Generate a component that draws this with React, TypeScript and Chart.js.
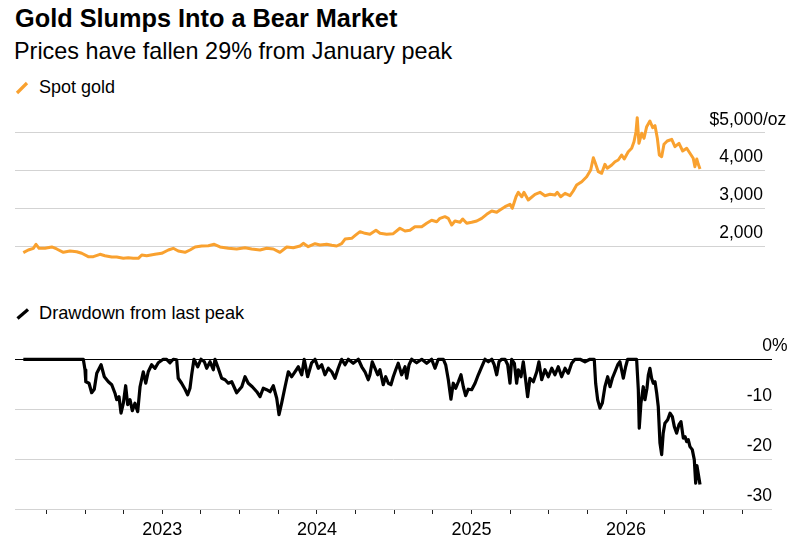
import React, { useEffect, useRef } from 'react';
import { Chart, registerables } from 'chart.js';

Chart.register(...registerables);

// Spot gold, USD per ounce (x = fractional year)
const goldDates = [
  2022.101, 2022.133, 2022.166, 2022.183, 2022.203, 2022.241, 2022.285, 2022.317, 2022.36, 2022.403,
  2022.446, 2022.479, 2022.521, 2022.554, 2022.597, 2022.629, 2022.673, 2022.705, 2022.748, 2022.78,
  2022.812, 2022.845, 2022.867, 2022.899, 2022.953, 2022.996, 2023.039, 2023.071, 2023.103, 2023.147,
  2023.179, 2023.212, 2023.255, 2023.298, 2023.336, 2023.373, 2023.427, 2023.481, 2023.535, 2023.578,
  2023.632, 2023.675, 2023.718, 2023.761, 2023.805, 2023.847, 2023.891, 2023.912, 2023.944, 2023.988,
  2024.02, 2024.063, 2024.096, 2024.128, 2024.16, 2024.182, 2024.225, 2024.246, 2024.279, 2024.311,
  2024.343, 2024.382, 2024.408, 2024.451, 2024.494, 2024.537, 2024.57, 2024.602, 2024.634, 2024.678,
  2024.71, 2024.742, 2024.775, 2024.796, 2024.828, 2024.85, 2024.872, 2024.893, 2024.926, 2024.943,
  2024.969, 2025.001, 2025.034, 2025.066, 2025.098, 2025.131, 2025.163, 2025.184, 2025.217, 2025.249,
  2025.264, 2025.288, 2025.303, 2025.325, 2025.339, 2025.367, 2025.411, 2025.443, 2025.475, 2025.508,
  2025.54, 2025.555, 2025.577, 2025.605, 2025.637, 2025.658, 2025.68, 2025.713, 2025.745, 2025.771,
  2025.788, 2025.799, 2025.82, 2025.842, 2025.863, 2025.878, 2025.907, 2025.928, 2025.949, 2025.971,
  2025.988, 2026.014, 2026.036, 2026.051, 2026.064, 2026.072, 2026.083, 2026.101, 2026.116, 2026.133,
  2026.154, 2026.172, 2026.187, 2026.202, 2026.215, 2026.23, 2026.245, 2026.266, 2026.295, 2026.316,
  2026.342, 2026.366, 2026.392, 2026.413, 2026.434, 2026.445, 2026.457, 2026.467, 2026.478,
];
const goldPrice = [
  1823, 1894, 1939, 2045, 1939, 1939, 1974, 1921, 1833, 1868,
  1849, 1807, 1717, 1717, 1780, 1743, 1709, 1709, 1674, 1690,
  1674, 1674, 1762, 1743, 1780, 1807, 1894, 1939, 1868, 1833,
  1894, 1974, 2000, 2008, 2045, 1974, 1939, 1921, 1955, 1921,
  1894, 1939, 1921, 1833, 1974, 1955, 2000, 2071, 1981, 2061,
  2026, 2045, 2019, 2000, 2061, 2185, 2204, 2273, 2379, 2336,
  2310, 2416, 2336, 2310, 2326, 2469, 2397, 2416, 2511, 2511,
  2601, 2681, 2643, 2733, 2776, 2733, 2556, 2662, 2628, 2715,
  2601, 2628, 2662, 2733, 2839, 2927, 2892, 2953, 3041, 3104,
  2998, 3305, 3422, 3305, 3422, 3218, 3369, 3422, 3332, 3369,
  3350, 3422, 3305, 3395, 3332, 3456, 3615, 3703, 3835, 4012,
  4338, 4216, 3967, 3925, 4163, 4058, 4145, 4232, 4277, 4410,
  4304, 4497, 4587, 4762, 5027, 5397, 4719, 4984, 4852, 5159,
  5310, 5133, 5186, 4852, 4410, 4365, 4693, 4780, 4825, 4629,
  4719, 4516, 4587, 4455, 4322, 4100, 4304, 4163, 4039,
];

// Drawdown from last peak, percent
const drawdownDates = [
  2022.101, 2022.489, 2022.5, 2022.505, 2022.526, 2022.543, 2022.56, 2022.576, 2022.604, 2022.625,
  2022.651, 2022.673, 2022.694, 2022.705, 2022.72, 2022.733, 2022.748, 2022.763, 2022.776, 2022.791,
  2022.806, 2022.823, 2022.841, 2022.856, 2022.877, 2022.893, 2022.909, 2022.931, 2022.953, 2022.974,
  2023.006, 2023.028, 2023.05, 2023.071, 2023.093, 2023.103, 2023.125, 2023.147, 2023.164, 2023.179,
  2023.19, 2023.205, 2023.229, 2023.25, 2023.272, 2023.287, 2023.309, 2023.33, 2023.341, 2023.362,
  2023.384, 2023.406, 2023.427, 2023.449, 2023.481, 2023.514, 2023.535, 2023.556, 2023.582, 2023.611,
  2023.632, 2023.653, 2023.675, 2023.697, 2023.718, 2023.74, 2023.755, 2023.772, 2023.794, 2023.815,
  2023.837, 2023.858, 2023.88, 2023.902, 2023.918, 2023.94, 2023.966, 2023.988, 2024.009, 2024.031,
  2024.052, 2024.074, 2024.096, 2024.117, 2024.138, 2024.16, 2024.182, 2024.203, 2024.235, 2024.268,
  2024.29, 2024.311, 2024.332, 2024.343, 2024.358, 2024.376, 2024.393, 2024.408, 2024.429, 2024.445,
  2024.462, 2024.479, 2024.494, 2024.51, 2024.526, 2024.548, 2024.57, 2024.581, 2024.596, 2024.613,
  2024.645, 2024.678, 2024.71, 2024.742, 2024.764, 2024.785, 2024.818, 2024.833, 2024.85, 2024.867,
  2024.882, 2024.898, 2024.915, 2024.932, 2024.947, 2024.962, 2024.979, 2025.001, 2025.023, 2025.044,
  2025.066, 2025.087, 2025.109, 2025.131, 2025.147, 2025.163, 2025.178, 2025.195, 2025.217, 2025.234,
  2025.249, 2025.26, 2025.277, 2025.292, 2025.303, 2025.32, 2025.335, 2025.35, 2025.363, 2025.378,
  2025.4, 2025.422, 2025.436, 2025.454, 2025.475, 2025.497, 2025.519, 2025.54, 2025.561, 2025.583,
  2025.605, 2025.626, 2025.648, 2025.669, 2025.702, 2025.734, 2025.766, 2025.794, 2025.803, 2025.816,
  2025.831, 2025.846, 2025.863, 2025.881, 2025.896, 2025.911, 2025.928, 2025.946, 2025.96, 2025.982,
  2025.997, 2026.01, 2026.036, 2026.068, 2026.079, 2026.085, 2026.096, 2026.111, 2026.122, 2026.135,
  2026.144, 2026.154, 2026.165, 2026.176, 2026.187, 2026.198, 2026.208, 2026.219, 2026.23, 2026.24,
  2026.251, 2026.269, 2026.284, 2026.299, 2026.312, 2026.327, 2026.342, 2026.355, 2026.37, 2026.381,
  2026.392, 2026.402, 2026.413, 2026.428, 2026.441, 2026.45, 2026.458, 2026.467, 2026.478,
];
const drawdownPct = [
  0, 0, -2.1, -4.5, -4.8, -6.7, -6.0, -2.8, -1.1, -3.5,
  -4.5, -5.1, -6.8, -8.1, -7.5, -10.8, -8.8, -5.3, -9.1, -8.1,
  -10.3, -8.8, -10.5, -5.5, -2.5, -4.8, -2.5, -1.1, -1.8, -0.7,
  0, 0, -0.7, 0, -0.1, -3.8, -4.8, -6.0, -7.1, -5.8,
  -3.1, 0, -1.5, 0, -0.5, -1.8, -0.5, -2.1, 0, -1.8,
  -3.8, -4.1, -4.8, -4.5, -6.7, -5.5, -3.5, -4.8, -5.5, -6.5,
  -7.5, -5.8, -6.1, -6.5, -5.3, -7.8, -11.1, -8.8, -5.5, -2.5,
  -3.5, -2.5, -1.5, -3.1, 0, -3.5, -0.7, 0, -1.8, -1.1,
  -3.1, -1.8, -2.5, -3.8, -1.8, 0, -1.1, 0, -0.8, 0,
  -1.5, -2.5, -4.1, -3.1, -0.5, -1.8, -3.1, -2.1, -5.1, -3.5,
  -4.8, -5.1, -3.5, -2.1, -0.8, -3.1, -1.5, -3.8, -1.1, 0,
  -0.7, 0, -0.8, 0, -1.8, 0, 0, -1.1, -4.1, -8.0,
  -4.8, -5.8, -4.5, -3.1, -5.5, -7.3, -6.0, -6.1, -4.8, -3.1,
  -1.5, 0, -0.5, 0, -1.1, -3.1, -0.5, 0, 0, -1.1,
  -4.8, 0, -0.8, -4.8, -2.1, -3.5, -0.5, -4.1, -7.5, -3.8,
  -4.5, -2.5, -0.5, -4.1, -2.1, -3.5, -1.8, -3.1, -1.5, -3.5,
  -1.8, -2.8, -0.8, 0, 0, -0.5, 0, 0, -4.8, -8.1,
  -9.8, -8.8, -5.5, -3.5, -5.5, -3.8, -2.5, -1.1, -0.5, -3.8,
  -1.5, 0, 0, 0, -6.1, -13.8, -8.8, -5.5, -8.1, -5.8,
  -3.1, -1.8, -3.8, -4.8, -4.5, -6.8, -9.5, -16.8, -19.1, -14.8,
  -12.8, -12.1, -10.8, -11.5, -13.5, -14.8, -13.1, -12.5, -15.8, -15.5,
  -16.5, -16.1, -17.5, -18.1, -20.1, -24.8, -21.3, -23.0, -25.1,
];

// Axis ticks and their labels
const priceTicks = [2000, 3000, 4000, 5000];
const priceTickLabels = ['2,000', '3,000', '4,000', '$5,000'];
const priceTickSuffix = ['', '', '', '/oz'];
const drawdownTicks = [0, -10, -20, -30];
const drawdownTickLabels = ['0', '-10', '-20', '-30'];
const drawdownTickSuffix = ['%', '', '', ''];
const quarterTicks = [
  2022.25, 2022.5, 2022.75, 2023, 2023.25, 2023.5, 2023.75, 2024, 2024.25, 2024.5,
  2024.75, 2025, 2025.25, 2025.5, 2025.75, 2026, 2026.25, 2026.5, 2026.75,
];
const yearTicks = [2023, 2024, 2025, 2026];
const yearLabels = ['2023', '2024', '2025', '2026'];

const FONT = '"Liberation Sans", Arial, Helvetica, sans-serif';
const ORANGE = '#F9A12F';
const GRID = '#d3d3d3';
const X_MIN = 2022.0472;
const X_MAX_TOP = 2026.8984;
const X_MAX_BOTTOM = 2026.9437;

// Draws the right-hand value labels sitting just above each gridline
const valueLabels = {
  id: 'valueLabels',
  afterDraw(chart: any, _args: any, opts: any) {
    const { ctx } = chart;
    const scale = chart.scales.y;
    ctx.save();
    ctx.font = `17.5px ${FONT}`;
    ctx.fillStyle = '#000';
    ctx.textBaseline = 'alphabetic';
    opts.values.forEach((v: number, i: number) => {
      const y = scale.getPixelForValue(v) - 8;
      ctx.textAlign = 'right';
      ctx.fillText(opts.texts[i], opts.right, y);
      if (opts.suffix[i]) {
        ctx.textAlign = 'left';
        ctx.fillText(opts.suffix[i], opts.right, y);
      }
    });
    ctx.restore();
  },
};

function priceConfig(): any {
  return {
    type: 'line',
    data: {
      datasets: [
        {
          data: goldDates.map((x, i) => ({ x, y: goldPrice[i] })),
          borderColor: ORANGE,
          borderWidth: 3,
          pointRadius: 0,
          tension: 0,
          borderJoinStyle: 'round',
        },
      ],
    },
    options: {
      animation: false,
      responsive: false,
      events: [],
      layout: { padding: { left: 15, right: 36, top: 0, bottom: 0 } },
      plugins: {
        legend: { display: false },
        tooltip: { enabled: false },
        valueLabels: { values: priceTicks, texts: priceTickLabels, suffix: priceTickSuffix, right: 763 },
      },
      scales: {
        x: { type: 'linear', min: X_MIN, max: X_MAX_TOP, display: false },
        y: {
          type: 'linear',
          position: 'right',
          min: 1391,
          max: 5813,
          afterBuildTicks: (s: any) => {
            s.ticks = priceTicks.map((value) => ({ value }));
          },
          afterFit: (s: any) => {
            s.width = 0;
          },
          grid: { color: GRID, lineWidth: 1, drawTicks: false },
          border: { display: false },
          ticks: { display: false },
        },
      },
    },
    plugins: [valueLabels],
  };
}

function drawdownConfig(): any {
  return {
    type: 'line',
    data: {
      datasets: [
        {
          data: drawdownDates.map((x, i) => ({ x, y: drawdownPct[i] })),
          borderColor: '#000',
          borderWidth: 3.2,
          pointRadius: 0,
          tension: 0,
          borderJoinStyle: 'round',
        },
      ],
    },
    options: {
      animation: false,
      responsive: false,
      events: [],
      layout: { padding: { left: 15, right: 29, top: 19.3, bottom: 0 } },
      plugins: {
        legend: { display: false },
        tooltip: { enabled: false },
        valueLabels: { values: drawdownTicks, texts: drawdownTickLabels, suffix: drawdownTickSuffix, right: 772 },
      },
      scales: {
        x: {
          type: 'linear',
          position: 'bottom',
          min: X_MIN,
          max: X_MAX_BOTTOM,
          afterBuildTicks: (s: any) => {
            s.ticks = quarterTicks.map((value) => ({ value }));
          },
          afterFit: (s: any) => {
            s.height = 40;
          },
          grid: {
            display: true,
            drawOnChartArea: false,
            drawTicks: true,
            tickLength: 5,
            tickColor: '#222',
            tickWidth: 1,
          },
          border: { display: false },
          ticks: {
            autoSkip: false,
            maxRotation: 0,
            minRotation: 0,
            padding: 5,
            color: '#000',
            font: { family: FONT, size: 18 },
            callback: (v: number) => {
              const k = yearTicks.indexOf(v);
              return k >= 0 ? yearLabels[k] : '';
            },
          },
        },
        y: {
          type: 'linear',
          position: 'right',
          min: -30,
          max: 2,
          afterBuildTicks: (s: any) => {
            s.ticks = drawdownTicks.map((value) => ({ value }));
          },
          afterFit: (s: any) => {
            s.width = 0;
          },
          grid: {
            color: (c: any) => (c.tick && c.tick.value === 0 ? '#000' : GRID),
            lineWidth: 1,
            drawTicks: false,
          },
          border: { display: false },
          ticks: { display: false },
        },
      },
    },
    plugins: [valueLabels],
  };
}

const textBase: React.CSSProperties = {
  position: 'absolute',
  whiteSpace: 'nowrap',
  color: '#000',
  fontFamily: FONT,
  margin: 0,
};

export default function App() {
  const topRef = useRef<HTMLCanvasElement>(null);
  const bottomRef = useRef<HTMLCanvasElement>(null);

  useEffect(() => {
    const top = new Chart(topRef.current as HTMLCanvasElement, priceConfig());
    const bottom = new Chart(bottomRef.current as HTMLCanvasElement, drawdownConfig());
    return () => {
      top.destroy();
      bottom.destroy();
    };
  }, []);

  return (
    <div
      style={{
        position: 'fixed',
        left: 0,
        top: 0,
        width: 801,
        height: 549,
        background: '#fff',
        overflow: 'hidden',
      }}
    >
      <div style={{ ...textBase, left: 15, top: 5.8, fontSize: 25.3, lineHeight: '25.3px', fontWeight: 700 }}>
        Gold Slumps Into a Bear Market
      </div>
      <div style={{ ...textBase, left: 14, top: 40.2, fontSize: 23.4, lineHeight: '23.4px' }}>
        Prices have fallen 29% from January peak
      </div>
      <div style={{ ...textBase, left: 39, top: 77.5, fontSize: 18, lineHeight: '18px' }}>Spot gold</div>
      <div style={{ ...textBase, left: 39, top: 304, fontSize: 18.2, lineHeight: '18.2px' }}>Drawdown from last peak</div>
      <svg
        width={801}
        height={549}
        style={{ position: 'absolute', left: 0, top: 0, pointerEvents: 'none' }}
      >
        <line x1={17} y1={93} x2={27} y2={83} stroke={ORANGE} strokeWidth={3.2} />
        <line x1={17.5} y1={318.5} x2={28} y2={309.5} stroke="#000" strokeWidth={3.2} />
      </svg>
      <canvas
        ref={topRef}
        width={801}
        height={167}
        style={{ position: 'absolute', left: 0, top: 102, width: 801, height: 167 }}
      />
      <canvas
        ref={bottomRef}
        width={801}
        height={219}
        style={{ position: 'absolute', left: 0, top: 330, width: 801, height: 219 }}
      />
    </div>
  );
}
